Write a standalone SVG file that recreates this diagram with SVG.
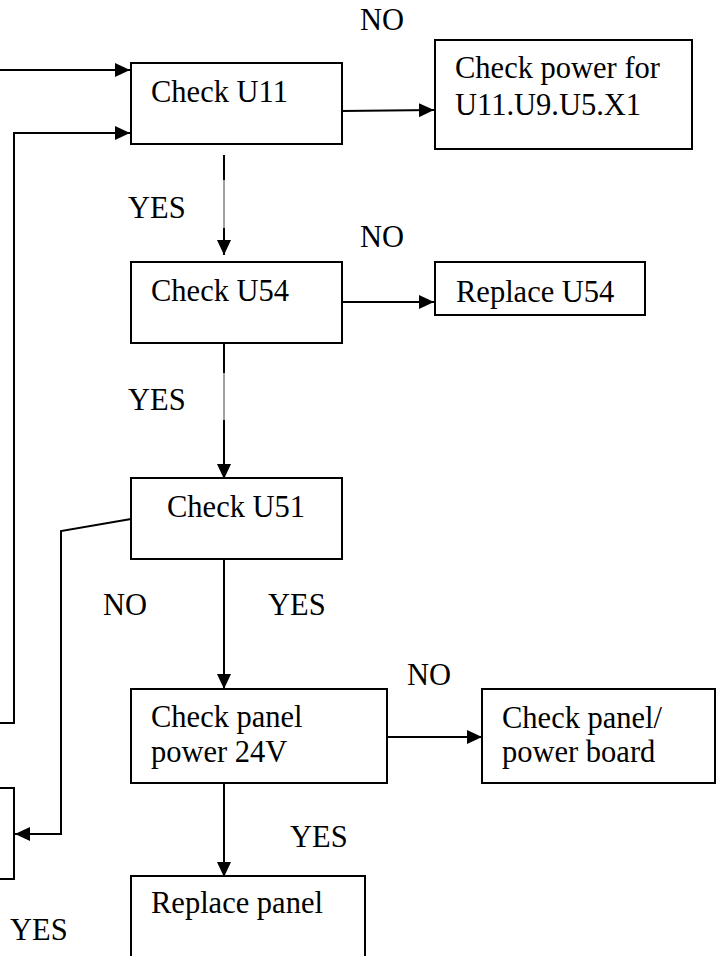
<svg xmlns="http://www.w3.org/2000/svg" width="718" height="956" viewBox="0 0 718 956">
<style>
.box{fill:#fff;stroke:#000;stroke-width:2}
.ln{fill:none;stroke:#000;stroke-width:2}
.thin{fill:none;stroke:#444;stroke-width:1}
text{font-family:'Liberation Serif','Times New Roman',serif;font-size:30.5px;fill:#000}
</style>
<defs>
<marker id="ah" markerUnits="userSpaceOnUse" markerWidth="15" markerHeight="14" refX="15" refY="7" orient="auto">
<path d="M0,0 L15,7 L0,14 z" fill="#000"/>
</marker>
</defs>
<rect width="718" height="956" fill="#fff"/>
<g id="connectors">
<path class="ln" d="M0,70 L130,70" marker-end="url(#ah)"/>
<path class="ln" d="M0,723 L14,723 L14,133 L130,133" marker-end="url(#ah)"/>
<path class="ln" d="M342,111 L434,110" marker-end="url(#ah)"/>
<path class="ln" d="M224,155 L224,180"/>
<path class="thin" d="M224,180 L224,228"/>
<path class="ln" d="M224,228 L224,255" marker-end="url(#ah)"/>
<path class="ln" d="M342,302 L434,302" marker-end="url(#ah)"/>
<path class="ln" d="M224,343 L224,373"/>
<path class="thin" d="M224,373 L224,420"/>
<path class="ln" d="M224,420 L224,479" marker-end="url(#ah)"/>
<path class="ln" d="M131,519 L61,531 L61,834 L15,834" marker-end="url(#ah)"/>
<path class="ln" d="M224,559 L224,689" marker-end="url(#ah)"/>
<path class="ln" d="M387,737 L482,737" marker-end="url(#ah)"/>
<path class="ln" d="M224,783 L224,877" marker-end="url(#ah)"/>
</g>
<g id="labels">
<text x="360" y="30">NO</text>
<text x="128" y="218">YES</text>
<text x="360" y="247">NO</text>
<text x="128" y="410">YES</text>
<text x="103" y="615">NO</text>
<text x="268" y="615">YES</text>
<text x="407" y="685">NO</text>
<text x="290" y="847">YES</text>
<text x="10" y="940">YES</text>
</g>
<g id="check-u11">
<rect class="box" x="131" y="63" width="211" height="81"/>
<text x="151" y="102">Check U11</text>
</g>
<g id="check-power">
<rect class="box" x="435" y="40" width="257" height="109"/>
<text x="455" y="78">Check power for</text>
<text x="455" y="115">U11.U9.U5.X1</text>
</g>
<g id="check-u54">
<rect class="box" x="131" y="262" width="211" height="81"/>
<text x="151" y="301">Check U54</text>
</g>
<g id="replace-u54">
<rect class="box" x="435" y="262" width="210" height="53"/>
<text x="456" y="302">Replace U54</text>
</g>
<g id="check-u51">
<rect class="box" x="131" y="478" width="211" height="81"/>
<text x="167" y="517">Check U51</text>
</g>
<g id="check-panel-power">
<rect class="box" x="131" y="689" width="256" height="94"/>
<text x="151" y="727">Check panel</text>
<text x="151" y="762">power 24V</text>
</g>
<g id="check-panel-board">
<rect class="box" x="482" y="689" width="233" height="94"/>
<text x="502" y="728">Check panel/</text>
<text x="502" y="762">power board</text>
</g>
<g id="replace-panel">
<rect class="box" x="131" y="876" width="234" height="90"/>
<text x="151" y="913">Replace panel</text>
</g>
<g id="left-box">
<path class="ln" d="M0,788 L14,788 L14,879 L0,879"/>
</g>
</svg>
